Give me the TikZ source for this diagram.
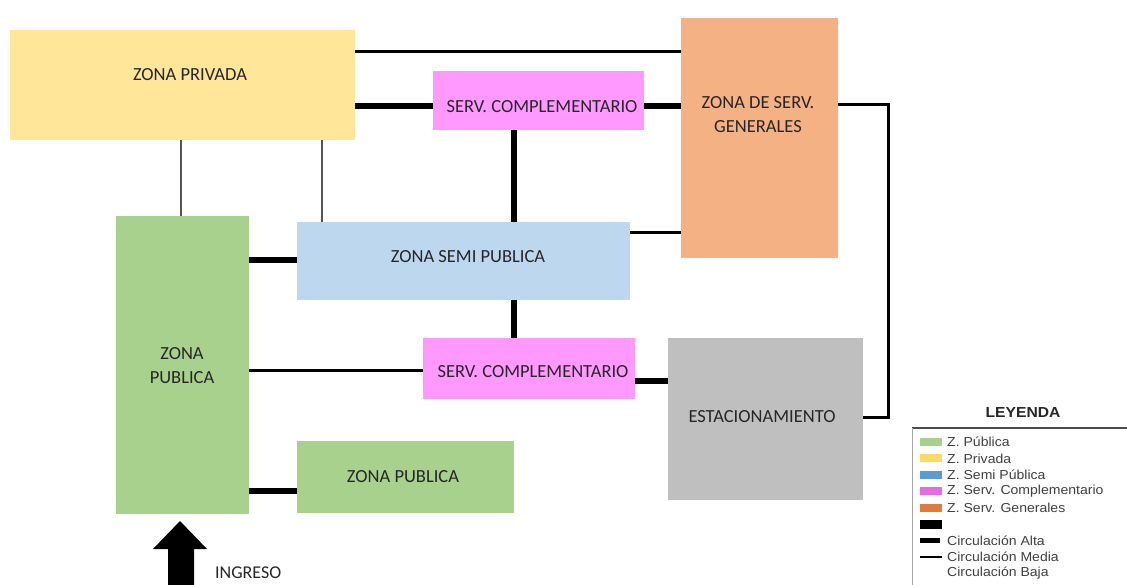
\documentclass[tikz,border=0pt]{standalone}
\usepackage{fontspec}
\setmainfont{Carlito}
\newfontfamily\legfont[FakeStretch=1.08]{Liberation Sans}
\definecolor{cPriv}{HTML}{FFE699}
\definecolor{cComp}{HTML}{FF99FF}
\definecolor{cGen}{HTML}{F4B183}
\definecolor{cSemi}{HTML}{BDD7EE}
\definecolor{cPub}{HTML}{A9D18E}
\definecolor{cEst}{HTML}{BFBFBF}
\definecolor{txt}{HTML}{262626}
\definecolor{thingray}{HTML}{555555}
\definecolor{lPub}{HTML}{A9D18E}
\definecolor{lPriv}{HTML}{FFD966}
\definecolor{lSemi}{HTML}{5B9BD5}
\definecolor{lComp}{HTML}{E46BE4}
\definecolor{lGen}{HTML}{E07B39}
\begin{document}
\begin{tikzpicture}[x=1pt,y=-1pt,
  zbox/.style={inner sep=0pt, outer sep=0pt, draw=none},
  lbl/.style={font=\fontsize{18.5}{24}\selectfont, text=txt, align=center, inner sep=0pt},
  thickc/.style={line width=6.5pt},
  medc/.style={line width=3pt, line join=miter},
  thinc/.style={line width=2pt, draw=thingray},
  leg/.style={font=\legfont\fontsize{13}{15}\selectfont, text=black!75, anchor=west, inner sep=0pt},
  sw/.style={inner sep=0pt, minimum width=22pt, minimum height=8pt},
]
\useasboundingbox (0,0) rectangle (1127,585);
\fill[white] (0,0) rectangle (1127,585);

% boxes
\node[zbox, fill=cPriv, minimum width=345pt, minimum height=110pt] (priv) at (182.5,85) {};
\node[zbox, fill=cComp, minimum width=211pt, minimum height=59pt] (comp1) at (538.5,100.5) {};
\node[zbox, fill=cGen, minimum width=157pt, minimum height=240pt] (gen) at (759.5,138) {};
\node[zbox, fill=cSemi, minimum width=333pt, minimum height=78pt] (semi) at (463.5,261) {};
\node[zbox, fill=cPub, minimum width=133pt, minimum height=298pt] (pub) at (182.5,365) {};
\node[zbox, fill=cComp, minimum width=212pt, minimum height=61pt] (comp2) at (529,368.5) {};
\node[zbox, fill=cEst, minimum width=195pt, minimum height=162pt] (est) at (765.5,419) {};
\node[zbox, fill=cPub, minimum width=217pt, minimum height=72pt] (pub2) at (405.5,477) {};

% labels
\node[lbl] (tPriv) at (190,75) {ZONA PRIVADA};
\node[lbl] (tComp1) at (542,107) {SERV. COMPLEMENTARIO};
\node[lbl] (tGen) at (758,115) {ZONA DE SERV.\\GENERALES};
\node[lbl] (tSemi) at (468,257) {ZONA SEMI PUBLICA};
\node[lbl] (tPub) at (182,366) {ZONA\\PUBLICA};
\node[lbl] (tComp2) at (533,372) {SERV. COMPLEMENTARIO};
\node[lbl] (tEst) at (762,417) {ESTACIONAMIENTO};
\node[lbl] (tPub2) at (403,477) {ZONA PUBLICA};

% connectors
\draw[medc] (priv.east |- 0,52) -- (gen.west |- 0,52);
\draw[thickc] (priv.east |- 0,106) -- (comp1.west |- 0,106);
\draw[thickc] (comp1.east |- 0,106) -- (gen.west |- 0,106);
\coordinate (bend) at (888,417);
\draw[medc] (gen.east |- 0,105) -| (bend) -- (est.east |- bend);
\draw[thinc] (priv.south -| 181,0) -- (pub.north -| 181,0);
\draw[thinc] (priv.south -| 322,0) -- (semi.north -| 322,0);
\draw[thickc] (comp1.south -| 514,0) -- (semi.north -| 514,0);
\draw[medc] (semi.east |- 0,233) -- (gen.west |- 0,233);
\draw[thickc] (pub.east |- 0,260) -- (semi.west |- 0,260);
\draw[thickc] (semi.south -| 514,0) -- (comp2.north -| 514,0);
\draw[medc] (pub.east |- 0,370) -- (comp2.west |- 0,370);
\draw[thickc] (comp2.east |- 0,381) -- (est.west |- 0,381);
\draw[thickc] (pub.east |- 0,491) -- (pub2.west |- 0,491);

% entrance arrow
\fill[black] (180,521) -- (207,549) -- (194,549) -- (194,590) -- (168,590) -- (168,549) -- (153,549) -- cycle;
\node[font=\fontsize{18}{20}\selectfont, text=txt, anchor=base west, inner sep=0pt] (ingreso) at (215,578) {INGRESO};

% legend
\node[font=\legfont\bfseries\fontsize{14.5}{16}\selectfont, text=black!85, inner sep=0pt] (leyenda) at (1023,413) {LEYENDA};
\draw[line width=1.8pt, draw=black!70] (912,428) -- (1127,428);
\draw[line width=1pt, draw=black!35] (912,428) -- (912,585);
\node[sw, fill=lPub] (s1) at (931,442) {};
\node[sw, fill=lPriv] (s2) at (931,458.4) {};
\node[sw, fill=lSemi] (s3) at (931,474.8) {};
\node[sw, fill=lComp] (s4) at (931,491.2) {};
\node[sw, fill=lGen] (s5) at (931,507.6) {};
\node[sw, fill=black, minimum height=9pt] (s6) at (931,524) {};
\node[inner sep=0pt] (s7) at (931,540.4) {};
\node[inner sep=0pt] (s8) at (931,556.8) {};
\draw[line width=5pt] (920,540.4) -- (940,540.4);
\draw[line width=1.8pt] (920,556.8) -- (942,556.8);
\node[leg] (l1) at (947,442) {Z. Pública};
\node[leg] (l2) at (947,458.4) {Z. Privada};
\node[leg] (l3) at (947,474.8) {Z. Semi Pública};
\node[leg] (l4) at (947,491.2) {Z. Serv. Complementario};
\node[leg] (l5) at (947,507.6) {Z. Serv. Generales};
\node[leg] (l7) at (947,540.4) {Circulación Alta};
\node[leg] (l8) at (947,556.8) {Circulación Media};
\node[leg] (l9) at (947,573.2) {Circulación Baja};
\end{tikzpicture}
\end{document}
